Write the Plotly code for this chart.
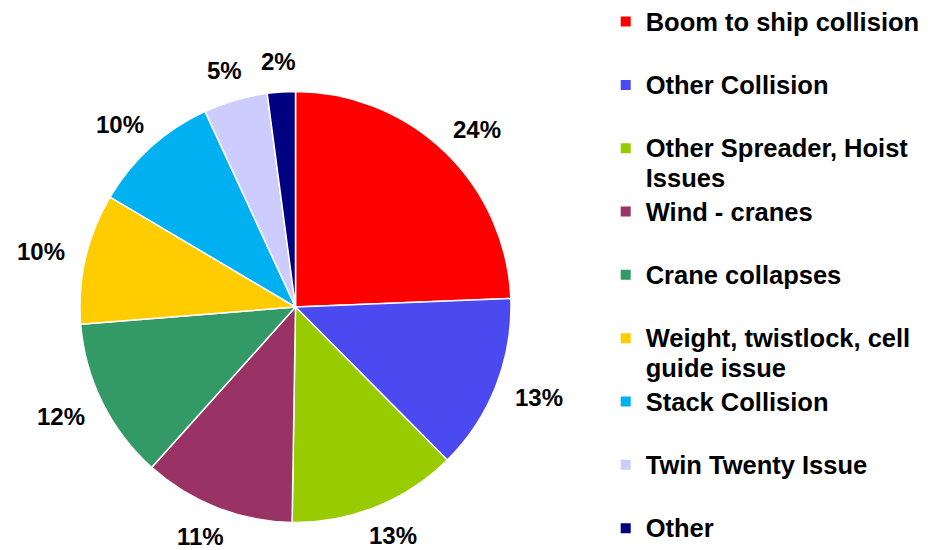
import math
import plotly.graph_objects as go

categories = [
    "Boom to ship collision",
    "Other Collision",
    "Other Spreader, Hoist<br>Issues",
    "Wind - cranes",
    "Crane collapses",
    "Weight, twistlock, cell<br>guide issue",
    "Stack Collision",
    "Twin Twenty Issue",
    "Other",
]
values = [24.4, 13.2, 12.7, 11.4, 12.1, 9.8, 9.6, 4.8, 2.1]
colors = ["#FF0000", "#4A4AF0", "#99CC00", "#993366", "#339966",
          "#FFCC00", "#00B0F0", "#CCCCFF", "#000080"]

W, H = 942, 550
dom_x = [80 / W, 511 / W]
dom_y = [1 - 523 / H, 1 - 91 / H]
LABEL_SIZE = 24

def legend_label(c, last):
    if "<br>" not in c and not last:
        c = c + "<br> "
    return "<span style='font-size:25.5px'>" + c + "</span>"

labels = [legend_label(c, i == len(categories) - 1) for i, c in enumerate(categories)]

fig = go.Figure(go.Pie(
    labels=labels,
    values=values,
    sort=False,
    direction="clockwise",
    rotation=0,
    marker=dict(colors=colors, line=dict(color="white", width=1.5)),
    textinfo="none",
    domain=dict(x=dom_x, y=dom_y),
    hoverinfo="label+percent",
))

# percentage labels placed just outside the pie edge, derived from the values
cx = (dom_x[0] + dom_x[1]) / 2 * W
cy = (1 - (dom_y[0] + dom_y[1]) / 2) * H
r = min((dom_x[1] - dom_x[0]) * W, (dom_y[1] - dom_y[0]) * H) / 2
gap = 22
total = sum(values)
cum = 0
for v in values:
    mid = (cum + v / 2) / total * 2 * math.pi
    cum += v
    txt = f"{round(v / total * 100)}%"
    tw = (0.556 * (len(txt) - 1) + 0.889) * LABEL_SIZE
    th = 0.75 * LABEL_SIZE
    dx, dy = math.sin(mid), -math.cos(mid)
    px = cx + dx * (r + gap) + dx * tw / 2
    py = cy + dy * (r + gap) + dy * th / 2
    fig.add_annotation(
        x=px / W, y=1 - py / H, xref="paper", yref="paper",
        text=txt, showarrow=False,
        xanchor="center", yanchor="middle",
        font=dict(family="Liberation Sans", size=LABEL_SIZE, color="black", weight="bold"),
    )

fig.update_layout(
    width=W, height=H,
    margin=dict(l=0, r=0, t=0, b=0, autoexpand=False),
    paper_bgcolor="white",
    showlegend=True,
    legend=dict(
        x=0.643, xanchor="left", y=1.0, yanchor="top",
        font=dict(family="Liberation Sans", size=23.2, color="black", weight="bold"),
        valign="top",
        itemsizing="constant",
        bgcolor="rgba(0,0,0,0)",
    ),
)

fig.write_html("out.html", config={"displayModeBar": False},
               post_script="document.body.style.margin='0';")
